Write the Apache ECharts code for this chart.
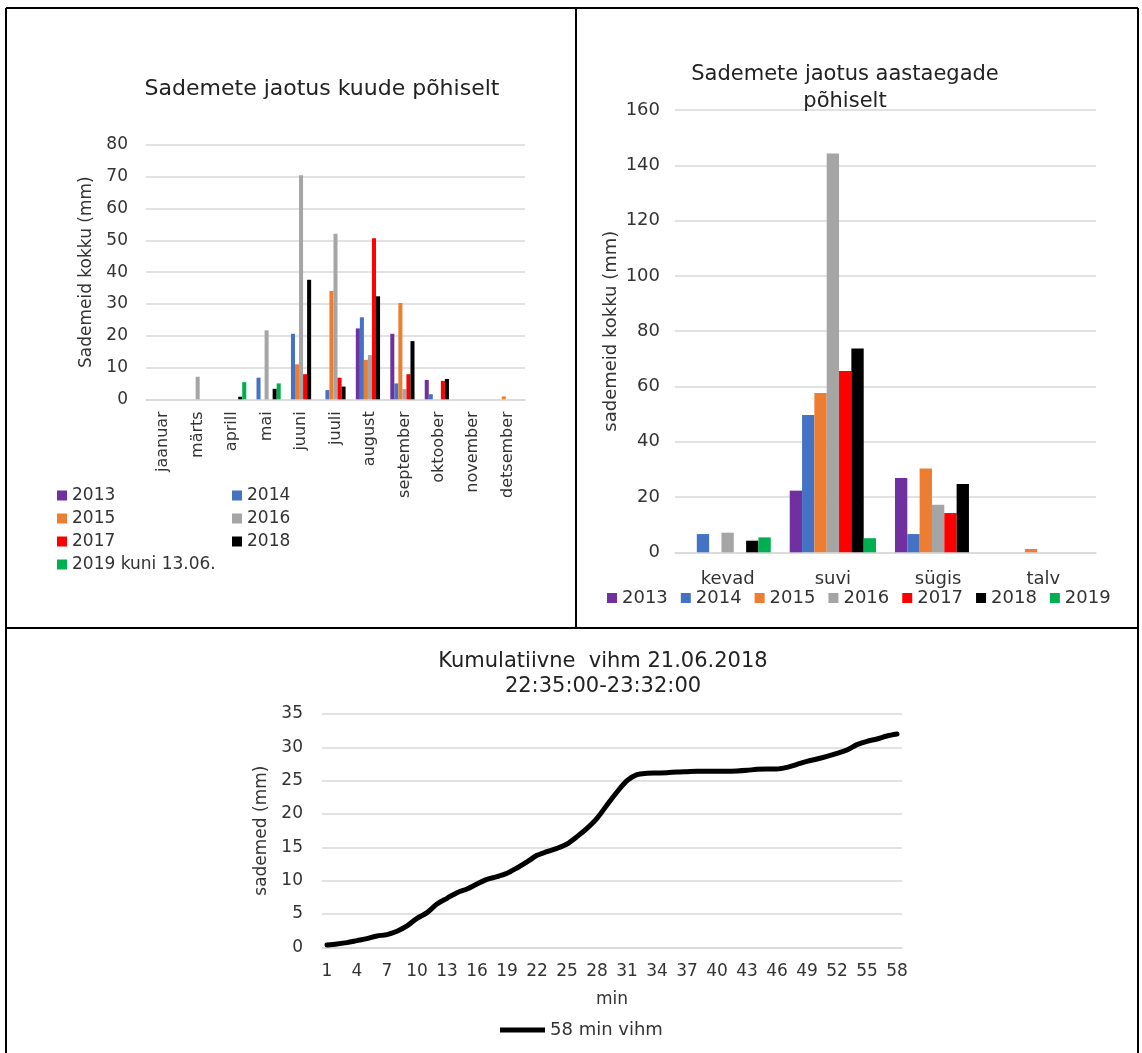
<!DOCTYPE html>
<html>
<head>
<meta charset="utf-8">
<script src="https://cdn.jsdelivr.net/npm/echarts@6/dist/echarts.min.js"></script>
<style>
html, body { margin: 0; padding: 0; background: #fff; }
#c { width: 1142px; height: 1053px; }
</style>
</head>
<body>
<div id="c"></div>
<script>
// Monthly precipitation totals (mm)
const months = ['jaanuar', 'märts', 'aprill', 'mai', 'juuni', 'juuli', 'august', 'september', 'oktoober', 'november', 'detsember'];
const m2013 = [0, 0, 0, 0, 0, 0, 22.3, 20.6, 6.1, 0, 0];
const m2014 = [0, 0, 0, 6.8, 20.6, 2.9, 25.8, 5.0, 1.6, 0, 0];
const m2015 = [0, 0, 0, 0, 11.0, 34.1, 12.4, 30.3, 0, 0, 0.9];
const m2016 = [0, 7.1, 0, 21.7, 70.5, 52.1, 13.9, 3.2, 0, 0, 0];
const m2017 = [0, 0, 0, 0, 7.9, 6.8, 50.7, 7.9, 5.8, 0, 0];
const m2018 = [0, 0, 0.8, 3.3, 37.6, 4.0, 32.4, 18.3, 6.4, 0, 0];
const m2019 = [0, 0, 5.4, 5.0, 0, 0, 0, 0, 0, 0, 0];
const monthTicks = [0, 10, 20, 30, 40, 50, 60, 70, 80];

// Seasonal precipitation totals (mm)
const seasons = ['kevad', 'suvi', 'sügis', 'talv'];
const s2013 = [0, 22.3, 26.9, 0];
const s2014 = [6.6, 49.7, 6.6, 0];
const s2015 = [0, 57.6, 30.3, 1.2];
const s2016 = [7.1, 144.3, 17.2, 0];
const s2017 = [0, 65.6, 14.2, 0];
const s2018 = [4.2, 73.7, 24.7, 0];
const s2019 = [5.4, 5.1, 0, 0];
const seasonTicks = [0, 20, 40, 60, 80, 100, 120, 140, 160];

// Cumulative rain, 21.06.2018 22:35–23:32, one value per minute (mm)
const minutes = Array.from({ length: 58 }, (_, i) => String(i + 1));
const cumulative = [
  0.35, 0.5, 0.7, 1.0, 1.3, 1.7, 1.9, 2.4, 3.2, 4.35,
  5.2, 6.5, 7.35, 8.2, 8.75, 9.5, 10.2, 10.6, 11.1, 11.9,
  12.8, 13.8, 14.35, 14.85, 15.5, 16.6, 17.85, 19.35, 21.35, 23.3,
  25.0, 25.9, 26.1, 26.15, 26.2, 26.3, 26.35, 26.4, 26.4, 26.4,
  26.4, 26.45, 26.55, 26.7, 26.75, 26.75, 27.0, 27.45, 27.9, 28.25,
  28.65, 29.1, 29.6, 30.4, 30.9, 31.25, 31.7, 32.0
];
const rainTicks = [0, 5, 10, 15, 20, 25, 30, 35];

const yearNames = ['2013', '2014', '2015', '2016', '2017', '2018', '2019'];
const yearColors = ['#7030a0', '#4472c4', '#ed7d31', '#a5a5a5', '#ff0000', '#000000', '#00b050'];
const monthlyRows = [m2013, m2014, m2015, m2016, m2017, m2018, m2019];
const seasonalRows = [s2013, s2014, s2015, s2016, s2017, s2018, s2019];

const FONT = 'DejaVu Sans';
const TXT = '#333333';
const GRIDC = '#d9d9d9';

function valueAxis(gridIndex, ticks, name, nameGap, margin, fontSize) {
  return {
    type: 'value', gridIndex,
    min: ticks[0], max: ticks[ticks.length - 1], interval: ticks[1] - ticks[0],
    name, nameLocation: 'middle', nameRotate: 90, nameGap,
    nameTextStyle: { fontFamily: FONT, fontSize, color: TXT },
    axisLine: { show: false }, axisTick: { show: false },
    axisLabel: { fontFamily: FONT, fontSize, color: TXT, margin },
    splitLine: { lineStyle: { color: GRIDC, width: 1.5 } }
  };
}

const series = [];
monthlyRows.forEach((row, i) => {
  series.push({
    name: i === 6 ? '2019 kuni 13.06.' : yearNames[i],
    type: 'bar', xAxisIndex: 0, yAxisIndex: 0,
    data: row, barGap: 0, barCategoryGap: '18%',
    itemStyle: { color: yearColors[i] }
  });
});
seasonalRows.forEach((row, i) => {
  series.push({
    name: yearNames[i],
    type: 'bar', xAxisIndex: 1, yAxisIndex: 1,
    data: row, barGap: 0, barCategoryGap: '18%',
    itemStyle: { color: yearColors[i] }
  });
});
series.push({
  name: '58 min vihm',
  type: 'line', xAxisIndex: 2, yAxisIndex: 2,
  data: cumulative, smooth: 0.3, symbol: 'none',
  lineStyle: { color: '#000', width: 5, cap: 'round', join: 'round' },
  itemStyle: { color: '#000' }
});

const legendText = { fontFamily: FONT, fontSize: 17, color: TXT };
const titleText = { fontFamily: FONT, fontSize: 21, fontWeight: 'normal', color: '#222' };

const option = {
  animation: false,
  backgroundColor: '#fff',
  title: [
    { text: 'Sademete jaotus kuude põhiselt', left: 322, top: 78, textAlign: 'center', padding: 0,
      textStyle: Object.assign({}, titleText, { fontSize: 22 }) },
    { text: 'Sademete jaotus aastaegade\npõhiselt', left: 845, top: 61, textAlign: 'center', padding: 0,
      textStyle: Object.assign({}, titleText, { lineHeight: 27 }) },
    { text: 'Kumulatiivne  vihm 21.06.2018\n22:35:00-23:32:00', left: 603, top: 649, textAlign: 'center', padding: 0,
      textStyle: Object.assign({}, titleText, { lineHeight: 25 }) }
  ],
  grid: [
    { left: 146, top: 145, width: 379, height: 254.3, containLabel: false },
    { left: 675, top: 110, width: 421, height: 442.3, containLabel: false },
    { left: 322, top: 714, width: 580, height: 233.3, containLabel: false }
  ],
  xAxis: [
    { type: 'category', gridIndex: 0, data: months,
      axisLine: { lineStyle: { color: GRIDC, width: 1.5 } }, axisTick: { show: false },
      axisLabel: { rotate: 90, interval: 0, margin: 12, fontFamily: FONT, fontSize: 16, color: TXT } },
    { type: 'category', gridIndex: 1, data: seasons,
      axisLine: { lineStyle: { color: GRIDC, width: 1.5 } }, axisTick: { show: false },
      axisLabel: { interval: 0, margin: 18, fontFamily: FONT, fontSize: 18, color: TXT } },
    { type: 'category', gridIndex: 2, data: minutes,
      name: 'min', nameLocation: 'middle', nameGap: 44,
      nameTextStyle: { fontFamily: FONT, fontSize: 17, color: TXT },
      axisLine: { lineStyle: { color: GRIDC, width: 1.5 } }, axisTick: { show: false },
      axisLabel: { interval: 2, margin: 16, fontFamily: FONT, fontSize: 17, color: TXT } }
  ],
  yAxis: [
    valueAxis(0, monthTicks, 'Sademeid kokku (mm)', 51, 18, 17),
    valueAxis(1, seasonTicks, 'sademeid kokku (mm)', 55, 15, 18),
    valueAxis(2, rainTicks, 'sademed (mm)', 48, 19, 17)
  ],
  legend: [
    { data: ['2013', '2015', '2017', '2019 kuni 13.06.'], orient: 'vertical', left: 57, top: 487, padding: 0,
      itemWidth: 10, itemHeight: 10, itemGap: 6, icon: 'rect', selectedMode: false, textStyle: legendText },
    { data: ['2014', '2016', '2018'], orient: 'vertical', left: 232, top: 487, padding: 0,
      itemWidth: 10, itemHeight: 10, itemGap: 6, icon: 'rect', selectedMode: false, textStyle: legendText },
    { data: yearNames, orient: 'horizontal', left: 607, top: 589, padding: 0,
      itemWidth: 10, itemHeight: 10, itemGap: 13, icon: 'rect', selectedMode: false,
      textStyle: { fontFamily: FONT, fontSize: 18, color: TXT } },
    { data: ['58 min vihm'], left: 500, top: 1021, padding: 0, itemWidth: 45, itemHeight: 5,
      icon: 'rect', selectedMode: false,
      textStyle: { fontFamily: FONT, fontSize: 18, color: TXT } }
  ],
  series,
  graphic: [
    // panel frame
    { type: 'line', shape: { x1: 6, y1: 8, x2: 1138, y2: 8 }, style: { stroke: '#000', lineWidth: 2 } },
    { type: 'line', shape: { x1: 6, y1: 8, x2: 6, y2: 1053 }, style: { stroke: '#000', lineWidth: 2 } },
    { type: 'line', shape: { x1: 1138, y1: 8, x2: 1138, y2: 1053 }, style: { stroke: '#000', lineWidth: 2 } },
    { type: 'line', shape: { x1: 576, y1: 8, x2: 576, y2: 628 }, style: { stroke: '#000', lineWidth: 2 } },
    { type: 'line', shape: { x1: 6, y1: 628, x2: 1138, y2: 628 }, style: { stroke: '#000', lineWidth: 2 } }
  ]
};

const chart = echarts.init(document.getElementById('c'), null, { renderer: 'canvas' });
chart.setOption(option);
</script>
</body>
</html>
